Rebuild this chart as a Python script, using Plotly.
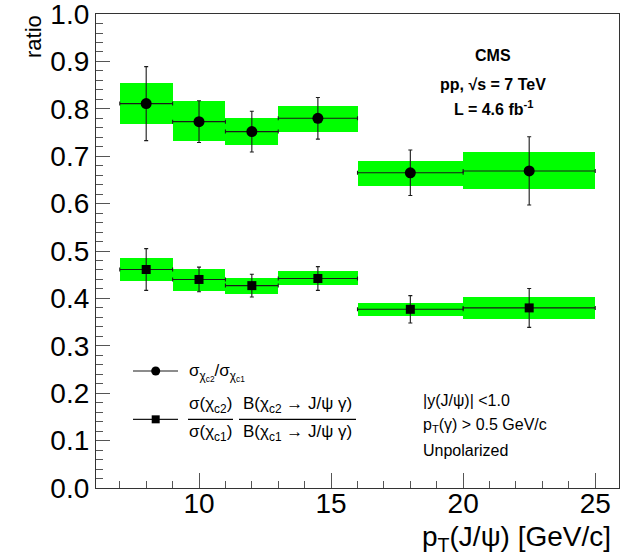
import plotly.graph_objects as go

# ---------------- data ----------------
bin_lo = [7, 9, 11, 13, 16, 20]
bin_hi = [9, 11, 13, 16, 20, 25]
pt_center = [8.0, 10.0, 12.0, 14.5, 18.0, 22.5]

# sigma(chi_c2)/sigma(chi_c1)  (circles)
ratio_sig = [0.811, 0.773, 0.752, 0.780, 0.665, 0.669]
ratio_sig_stat = [0.078, 0.044, 0.043, 0.044, 0.048, 0.072]
ratio_sig_syst_hi = [0.855, 0.816, 0.781, 0.807, 0.690, 0.708]
ratio_sig_syst_lo = [0.767, 0.733, 0.723, 0.752, 0.638, 0.630]

# sigma*B ratio (squares)
ratio_br = [0.461, 0.440, 0.427, 0.442, 0.377, 0.380]
ratio_br_stat = [0.044, 0.026, 0.024, 0.025, 0.029, 0.041]
ratio_br_syst_hi = [0.485, 0.463, 0.443, 0.458, 0.391, 0.402]
ratio_br_syst_lo = [0.436, 0.416, 0.410, 0.428, 0.363, 0.356]

y_ticks = [0.0, 0.1, 0.2, 0.3, 0.4, 0.5, 0.6, 0.7, 0.8, 0.9, 1.0]
x_ticks = [10, 15, 20, 25]

# ---------------- style ----------------
FONT = "Liberation Sans, Arial, Helvetica, sans-serif"
GREEN = "#00ff00"
ERR = "#1a1a1a"
W, H = 635, 559
L, R, T, B = 96, 619, 13.5, 487.7


def px(x):
    return (x - L) / (R - L)


def py(y):
    return (B - y) / (B - T)


widths = [h - l for l, h in zip(bin_lo, bin_hi)]
mids = [(l + h) / 2 for l, h in zip(bin_lo, bin_hi)]
ex_plus = [h - c for h, c in zip(bin_hi, pt_center)]
ex_minus = [c - l for l, c in zip(bin_lo, pt_center)]

fig = go.Figure()

for hi, lo in [(ratio_sig_syst_hi, ratio_sig_syst_lo), (ratio_br_syst_hi, ratio_br_syst_lo)]:
    fig.add_trace(go.Bar(
        x=mids, y=[h - l for h, l in zip(hi, lo)], base=lo, width=widths,
        marker=dict(color=GREEN, line=dict(width=0)), showlegend=False,
        hoverinfo="skip"))

for vals, stat, sym, size in [(ratio_sig, ratio_sig_stat, "circle", 11),
                              (ratio_br, ratio_br_stat, "square", 9)]:
    fig.add_trace(go.Scatter(
        x=pt_center, y=vals, mode="markers",
        marker=dict(symbol=sym, size=size, color="black"),
        error_y=dict(type="data", array=stat, color=ERR, thickness=1.1, width=2),
        error_x=dict(type="data", array=ex_plus, arrayminus=ex_minus,
                     color=ERR, thickness=1.1, width=2),
        showlegend=False))

fig.update_layout(
    width=W, height=H,
    margin=dict(l=L, r=W - R, t=T, b=H - B, autoexpand=False),
    paper_bgcolor="white", plot_bgcolor="white",
    barmode="overlay", bargap=0,
    font=dict(family=FONT, color="black"),
    showlegend=False,
)

fig.update_xaxes(
    range=[6.1, 25.9], tickvals=x_ticks, ticks="inside", ticklen=15,
    tickcolor="#555", tickwidth=1, showgrid=False, zeroline=False,
    showline=True, linecolor="#333", linewidth=1.2, mirror=True, automargin=False,
    tickfont=dict(size=28, family=FONT), ticklabelstandoff=-10,
    minor=dict(dtick=1, tick0=0, ticks="inside", ticklen=7, tickcolor="#555", showgrid=False),
)
fig.update_yaxes(
    range=[0, 1.0001], tickvals=y_ticks, tickformat=".1f", ticks="inside", ticklen=14,
    tickcolor="#555", tickwidth=1, showgrid=False, zeroline=False,
    showline=True, linecolor="#333", linewidth=1.2, mirror=True, automargin=False,
    tickfont=dict(size=28, family=FONT), ticklabeloverflow="allow",
    minor=dict(dtick=0.02, tick0=0, ticks="inside", ticklen=7, tickcolor="#555", showgrid=False),
)

ann = []
# axis titles
ann.append(dict(text="p<sub>T</sub>(J/ψ) [GeV/c]", x=px(613), y=py(538),
                xanchor="right", yanchor="middle", font=dict(size=28)))
ann.append(dict(text="ratio", x=px(34), y=py(36.5), textangle=-90,
                xanchor="center", yanchor="middle", font=dict(size=22)))
# CMS label
ann.append(dict(text="<b>CMS</b>", x=px(493), y=py(55), xanchor="center", yanchor="middle",
                font=dict(size=16)))
ann.append(dict(text="<b>pp, √s = 7 TeV</b>", x=px(493), y=py(84), xanchor="center",
                yanchor="middle", font=dict(size=16)))
ann.append(dict(text="<b>L = 4.6 fb<sup>-1</sup></b>", x=px(493), y=py(108), xanchor="center",
                yanchor="middle", font=dict(size=16)))
# cuts
for txt, yy in [("|y(J/ψ)| <1.0", 400), ("p<sub>T</sub>(γ) > 0.5 GeV/c", 425),
                ("Unpolarized", 450)]:
    ann.append(dict(text=txt, x=px(421), y=py(yy), xanchor="left", yanchor="middle",
                    font=dict(size=16)))
# legend texts
ann.append(dict(text="σ<sub>χ<sub>c2</sub></sub>/σ<sub>χ<sub>c1</sub></sub>", x=px(187), y=py(372),
                xanchor="left", yanchor="middle", font=dict(size=17)))
ann.append(dict(text="σ(χ<sub>c2</sub>)", x=px(210.5), y=py(405), xanchor="center",
                yanchor="middle", font=dict(size=17)))
ann.append(dict(text="σ(χ<sub>c1</sub>)", x=px(210.5), y=py(433), xanchor="center",
                yanchor="middle", font=dict(size=17)))
ann.append(dict(text="B(χ<sub>c2</sub> → J/ψ γ)", x=px(297.5), y=py(405), xanchor="center",
                yanchor="middle", font=dict(size=17)))
ann.append(dict(text="B(χ<sub>c1</sub> → J/ψ γ)", x=px(297.5), y=py(433), xanchor="center",
                yanchor="middle", font=dict(size=17)))
for a in ann:
    a.update(xref="paper", yref="paper", showarrow=False)
fig.update_layout(annotations=ann)

shapes = []
# legend lines
for yy in (370.7, 419):
    shapes.append(dict(type="line", x0=px(133), x1=px(178), y0=py(yy), y1=py(yy),
                       line=dict(color=ERR, width=1.1)))
# legend markers
r = 4.5
shapes.append(dict(type="circle", x0=px(155.7 - r), x1=px(155.7 + r), y0=py(370.7 + r),
                   y1=py(370.7 - r), fillcolor="black", line=dict(width=0)))
s = 4
shapes.append(dict(type="rect", x0=px(155.7 - s), x1=px(155.7 + s), y0=py(419 + s),
                   y1=py(419 - s), fillcolor="black", line=dict(width=0)))
# fraction bars
shapes.append(dict(type="line", x0=px(188), x1=px(233), y0=py(419), y1=py(419),
                   line=dict(color="black", width=1.2)))
shapes.append(dict(type="line", x0=px(239), x1=px(356), y0=py(419), y1=py(419),
                   line=dict(color="black", width=1.2)))
for sh in shapes:
    sh.update(xref="paper", yref="paper")
fig.update_layout(shapes=shapes)

fig.write_html("out.html")
